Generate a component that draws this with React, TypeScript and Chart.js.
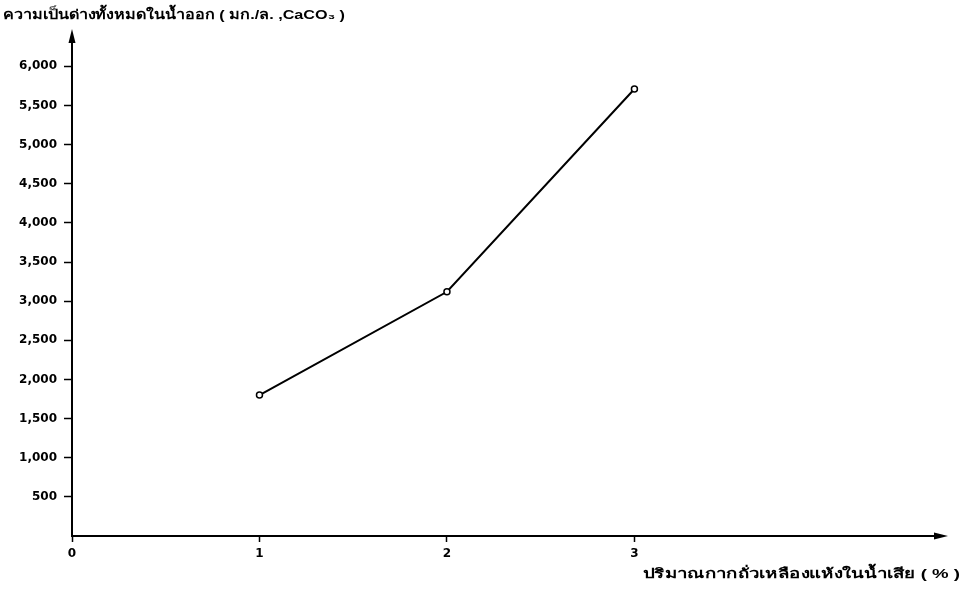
import React, { useEffect, useRef } from "react";
import { Chart, registerables } from "chart.js";

Chart.register(...registerables);

const dryResidue = [1, 2, 3];
const alkalinity = [1800, 3120, 5710];
const xTickValues = [0, 1, 2, 3];
const yTickValues = [500, 1000, 1500, 2000, 2500, 3000, 3500, 4000, 4500, 5000, 5500, 6000];
const yTitle = "ความเป็นด่างทั้งหมดในน้ำออก ( มก./ล. ,CaCO₃ )";
const xTitle = "ปริมาณกากถั่วเหลืองแห้งในน้ำเสีย ( % )";

const TICK_FONT = "'DejaVu Sans', 'Liberation Sans', sans-serif";
const TITLE_FONT = "'Liberation Sans', 'Noto Sans', sans-serif";

function drawFitted(ctx: CanvasRenderingContext2D, text: string, x0: number, x1: number, baseline: number) {
  const w = ctx.measureText(text).width;
  const sx = (x1 - x0) / w;
  ctx.save();
  ctx.translate(x0, baseline);
  ctx.scale(sx, 1);
  ctx.textAlign = "left";
  ctx.textBaseline = "alphabetic";
  ctx.fillText(text, 0, 0);
  ctx.restore();
}

const decorPlugin = {
  id: "decor",
  afterDraw(chart: any) {
    const ctx = chart.ctx;
    const { left, right, top, bottom } = chart.chartArea;
    ctx.save();
    ctx.fillStyle = "#000";
    // arrowheads
    ctx.beginPath();
    ctx.moveTo(left, top - 6);
    ctx.lineTo(left - 3.5, top + 8);
    ctx.lineTo(left + 3.5, top + 8);
    ctx.closePath();
    ctx.fill();
    ctx.beginPath();
    ctx.moveTo(right + 8, bottom);
    ctx.lineTo(right - 6, bottom - 3.5);
    ctx.lineTo(right - 6, bottom + 3.5);
    ctx.closePath();
    ctx.fill();
    // titles
    ctx.font = `bold 13px ${TITLE_FONT}`;
    drawFitted(ctx, yTitle, 3, 345, 19);
    drawFitted(ctx, xTitle, 643, 960, 578);
    ctx.restore();
  },
};

export default function App() {
  const ref = useRef<HTMLCanvasElement>(null);
  useEffect(() => {
    document.body.style.margin = "0";
    const chart = new Chart(ref.current as HTMLCanvasElement, {
      type: "line",
      data: {
        datasets: [
          {
            data: dryResidue.map((x, i) => ({ x, y: alkalinity[i] })),
            borderColor: "#000",
            borderWidth: 2,
            backgroundColor: "#fff",
            pointRadius: 3,
            pointBorderWidth: 1.5,
            pointBorderColor: "#000",
            pointBackgroundColor: "#fff",
            tension: 0,
          },
        ],
      },
      options: {
        animation: false,
        responsive: false,
        layout: { padding: { top: 35, right: 35, left: 0, bottom: 0 } },
        plugins: { legend: { display: false }, tooltip: { enabled: false } },
        scales: {
          x: {
            type: "linear",
            min: 0,
            max: 4.63,
            afterBuildTicks: (s: any) => {
              s.ticks = xTickValues.map((v) => ({ value: v }));
            },
            afterFit: (s: any) => {
              s.height = 56;
            },
            border: { display: true, color: "#000", width: 2 },
            grid: { drawOnChartArea: false, drawTicks: true, tickLength: 6, tickColor: "#000", tickWidth: 1.5 },
            ticks: {
              color: "#000",
              padding: 5,
              font: { family: TICK_FONT, size: 12, weight: "bold" },
              maxRotation: 0,
              callback: (v: any) => String(v),
            },
          },
          y: {
            type: "linear",
            min: 0,
            max: 6400,
            afterBuildTicks: (s: any) => {
              s.ticks = yTickValues.map((v) => ({ value: v }));
            },
            afterFit: (s: any) => {
              s.width = 72;
            },
            border: { display: true, color: "#000", width: 2 },
            grid: { drawOnChartArea: false, drawTicks: true, tickLength: 8, tickColor: "#000", tickWidth: 1.5 },
            ticks: {
              color: "#000",
              padding: 7,
              font: { family: TICK_FONT, size: 12, weight: "bold" },
              callback: (v: any) => Number(v).toLocaleString("en-US"),
            },
          },
        },
      },
      plugins: [decorPlugin],
    } as any);
    return () => chart.destroy();
  }, []);
  return (
    <div style={{ width: 975, height: 592, background: "#fff" }}>
      <canvas ref={ref} width={975} height={592} style={{ display: "block" }} />
    </div>
  );
}
